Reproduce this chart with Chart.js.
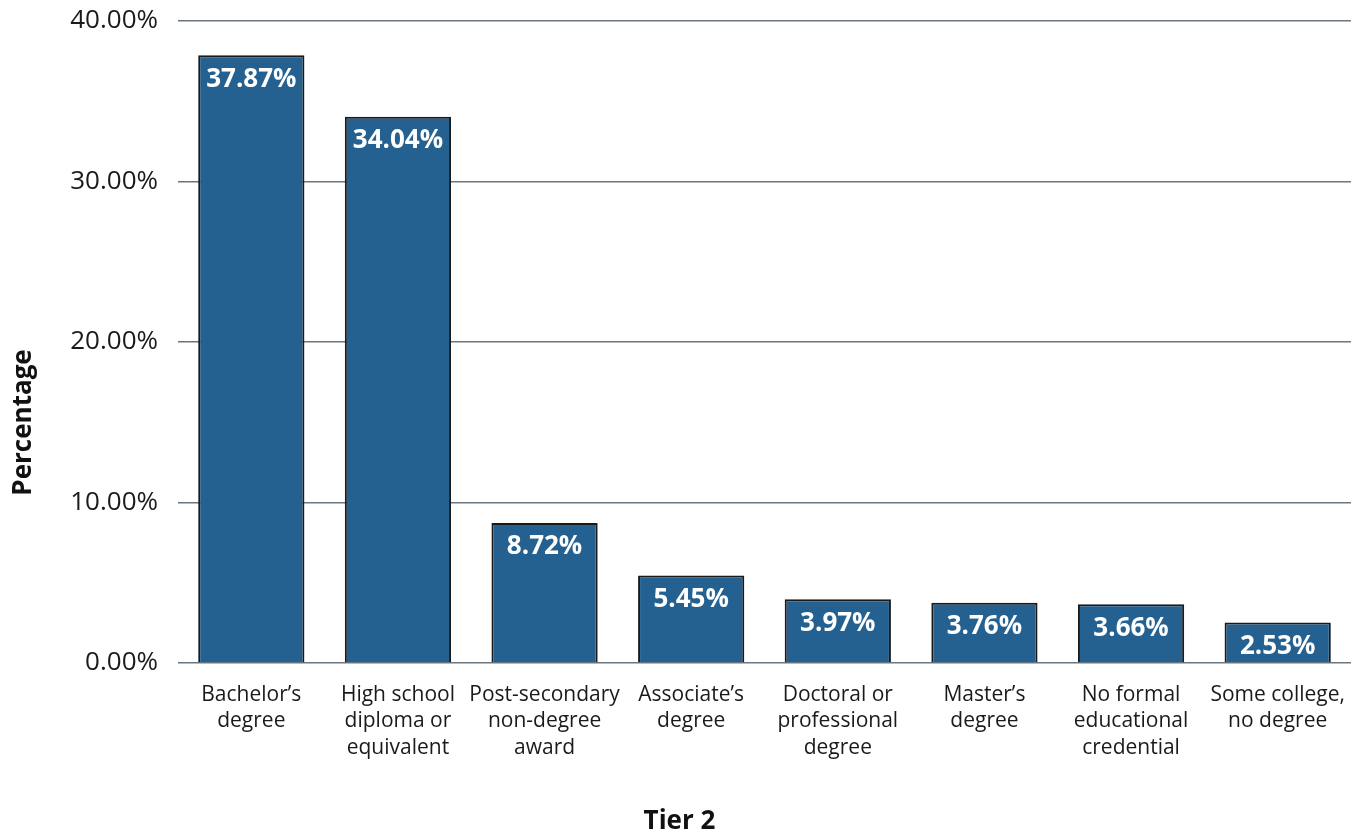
<!DOCTYPE html>
<html>
<head>
<meta charset="utf-8">
<title>Tier 2</title>
<script src="https://cdn.jsdelivr.net/npm/chart.js@4.4.1/dist/chart.umd.min.js"></script>
<style>
  html, body { margin: 0; padding: 0; background: #fff; }
  #wrap { width: 1359px; height: 839px; }
</style>
</head>
<body>
<div id="wrap"><canvas id="myChart"></canvas></div>
<script>
var categories = [
    ["Bachelor\u2019s", "degree"],
    ["High school", "diploma or", "equivalent"],
    ["Post-secondary", "non-degree", "award"],
    ["Associate\u2019s", "degree"],
    ["Doctoral or", "professional", "degree"],
    ["Master\u2019s", "degree"],
    ["No formal", "educational", "credential"],
    ["Some college,", "no degree"]
];
var percentages = [37.87, 34.04, 8.72, 5.45, 3.97, 3.76, 3.66, 2.53];
var yTicks = [0, 10, 20, 30, 40];

Chart.defaults.font.family = "'Open Sans', 'Noto Sans', sans-serif";
Chart.defaults.color = '#1a1a1a';

// white value label just inside the top of each bar
var barLabels = {
    id: 'barLabels',
    afterDatasetsDraw: function(chart) {
        var ctx = chart.ctx;
        var meta = chart.getDatasetMeta(0);
        ctx.save();
        ctx.fillStyle = '#ffffff';
        ctx.font = "bold 26px 'Open Sans', sans-serif";
        ctx.textAlign = 'center';
        ctx.textBaseline = 'middle';
        meta.data.forEach(function(bar, i) {
            ctx.fillText(percentages[i].toFixed(2) + '%', bar.x, bar.y + 24);
        });
        ctx.restore();
    }
};

// axis titles, centred on the whole canvas
var axisTitles = {
    id: 'axisTitles',
    afterDraw: function(chart) {
        var ctx = chart.ctx;
        ctx.save();
        ctx.fillStyle = '#111111';
        ctx.font = "bold 26px 'Open Sans', sans-serif";
        ctx.textAlign = 'center';
        ctx.textBaseline = 'middle';
        ctx.fillText('Tier 2', chart.width / 2, 822);
        ctx.translate(24, chart.height / 2 + 3);
        ctx.rotate(-Math.PI / 2);
        ctx.fillText('Percentage', 0, 0);
        ctx.restore();
    }
};

var config = {
    type: 'bar',
    data: {
        labels: categories,
        datasets: [{
            label: 'Percentage',
            data: percentages,
            backgroundColor: '#246190',
            borderColor: '#1a1a1a',
            borderWidth: 2,
            categoryPercentage: 0.805,
            barPercentage: 0.9
        }]
    },
    options: {
        responsive: true,
        maintainAspectRatio: false,
        animation: false,
        layout: { padding: { top: 21, right: 8, left: 0, bottom: 0 } },
        plugins: {
            legend: { display: false },
            tooltip: { enabled: false }
        },
        scales: {
            x: {
                grid: { display: false, drawTicks: false },
                border: { display: false },
                afterFit: function(axis) {
                    axis.height = 176;
                    axis.paddingLeft = 0;
                    axis.paddingRight = 0;
                },
                ticks: {
                    font: { size: 21, lineHeight: 1.25 },
                    color: '#1a1a1a',
                    padding: 19,
                    maxRotation: 0,
                    autoSkip: false
                }
            },
            y: {
                min: 0,
                max: 40,
                afterBuildTicks: function(axis) {
                    axis.ticks = yTicks.map(function(v) { return { value: v }; });
                },
                afterFit: function(axis) {
                    axis.width = 178;
                    axis.paddingTop = 0;
                    axis.paddingBottom = 0;
                },
                grid: { color: '#6b7680', lineWidth: 1.5, drawTicks: false },
                border: { display: false },
                ticks: {
                    font: { size: 26 },
                    color: '#1a1a1a',
                    padding: 20,
                    callback: function(v) { return v.toFixed(2) + '%'; }
                }
            }
        }
    },
    plugins: [barLabels, axisTitles]
};

window.onload = function() {
    var ctx = document.getElementById("myChart");
    window.myBar = new Chart(ctx, config);
};
</script>
</body>
</html>
